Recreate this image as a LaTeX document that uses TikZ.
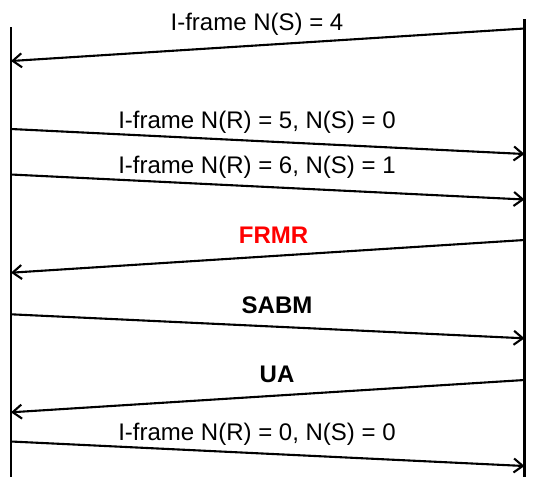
\documentclass[tikz,border=0pt]{standalone}
\usepackage{fontspec}
\setmainfont{Liberation Sans}
\usetikzlibrary{arrows.meta}
\begin{document}
\begin{tikzpicture}[x=1pt,y=-1pt,
  lifeline/.style={line width=2.3pt},
  msg/.style={line width=2.1pt,-{Straight Barb[length=9pt,width=14pt,line width=2.1pt]}},
  lbl/.style={anchor=base,inner sep=0pt,font=\fontsize{24}{26}\selectfont},
  blbl/.style={lbl,font=\fontsize{24}{26}\selectfont\bfseries}]
\useasboundingbox (0,0) rectangle (540,485);
% lifelines
\coordinate (Ltop) at (11,27);
\coordinate (Lbot) at (11,477);
\coordinate (Rtop) at (524.5,19);
\coordinate (Rbot) at (524.5,477);
\draw[lifeline] (Ltop) -- (Lbot);
\draw[lifeline] (Rtop) -- (Rbot);
% message endpoints
\coordinate (r1) at (524.5,28.5);  \coordinate (l1) at (11,61);
\coordinate (l2) at (11,129);      \coordinate (r2) at (524.5,154);
\coordinate (l3) at (11,174.5);    \coordinate (r3) at (524.5,199.5);
\coordinate (r4) at (524.5,240);   \coordinate (l4) at (11,272.7);
\coordinate (l5) at (11,314.3);    \coordinate (r5) at (524.5,338.3);
\coordinate (r6) at (524.5,380);   \coordinate (l6) at (11,412.3);
\coordinate (l7) at (11,441.5);    \coordinate (r7) at (524.5,466);
\draw[msg] (r1) -- (l1);
\draw[msg] (l2) -- (r2);
\draw[msg] (l3) -- (r3);
\draw[msg] (r4) -- (l4);
\draw[msg] (l5) -- (r5);
\draw[msg] (r6) -- (l6);
\draw[msg] (l7) -- (r7);
% labels
\node[lbl] (t1) at (257,30.5) {I-frame N(S) = 4};
\node[lbl] (t2) at (257,128) {I-frame N(R) = 5, N(S) = 0};
\node[lbl] (t3) at (257,173.5) {I-frame N(R) = 6, N(S) = 1};
\node[blbl,text=red] (t4) at (273.5,243) {FRMR};
\node[blbl] (t5) at (277,313) {SABM};
\node[blbl] (t6) at (277,382.5) {UA};
\node[lbl] (t7) at (257,440.5) {I-frame N(R) = 0, N(S) = 0};
\end{tikzpicture}
\end{document}
